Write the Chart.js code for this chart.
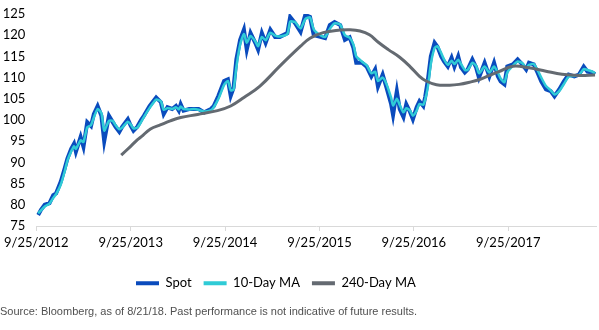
<!DOCTYPE html>
<html>
<head>
<meta charset="utf-8">
<script src="https://cdn.jsdelivr.net/npm/chart.js@4/dist/chart.umd.min.js"></script>
<style>
  html, body { margin: 0; padding: 0; background: #fff; }
  #wrap { width: 599px; height: 330px; position: relative; }
</style>
</head>
<body>
<div id="wrap"><canvas id="grafico"></canvas></div>
<script>
// years since 9/25/2012
const spotDates = [0.02, 0.05, 0.09, 0.14, 0.18, 0.21, 0.26, 0.30, 0.33, 0.37, 0.40, 0.42, 0.47, 0.50, 0.54, 0.58, 0.61, 0.65, 0.69, 0.72,
    0.77, 0.81, 0.84, 0.88, 0.91, 0.97, 1.00, 1.03, 1.07, 1.11, 1.14, 1.20, 1.27, 1.32, 1.35, 1.39, 1.44, 1.48, 1.51, 1.53,
    1.56, 1.62, 1.67, 1.72, 1.78, 1.85, 1.88, 1.93, 1.99, 2.03, 2.06, 2.09, 2.12, 2.16, 2.20, 2.23, 2.27, 2.32, 2.35, 2.39,
    2.43, 2.48, 2.53, 2.58, 2.66, 2.69, 2.74, 2.80, 2.85, 2.90, 2.94, 3.01, 3.06, 3.11, 3.16, 3.22, 3.27, 3.32, 3.36, 3.39,
    3.45, 3.50, 3.55, 3.59, 3.62, 3.67, 3.71, 3.76, 3.78, 3.82, 3.85, 3.89, 3.92, 3.96, 3.99, 4.03, 4.06, 4.10, 4.12, 4.15,
    4.18, 4.22, 4.25, 4.29, 4.32, 4.36, 4.40, 4.43, 4.47, 4.50, 4.54, 4.57, 4.62, 4.66, 4.69, 4.75, 4.80, 4.85, 4.89, 4.92,
    4.96, 4.99, 5.05, 5.10, 5.15, 5.19, 5.22, 5.27, 5.31, 5.35, 5.40, 5.45, 5.49, 5.54, 5.59, 5.64, 5.70, 5.75, 5.80, 5.84,
    5.89, 5.92];
const spotValues = [77.6, 78.8, 80.0, 80.4, 82.3, 82.7, 85.5, 88.5, 90.9, 93.2, 94.4, 92.5, 96.0, 93.7, 99.5, 98.6, 101.4, 103.3, 101.0, 95.0,
    101.0, 99.5, 98.4, 97.2, 98.4, 100.2, 98.7, 97.5, 98.4, 100.0, 101.0, 103.3, 105.3, 104.2, 101.4, 103.0, 102.6, 103.3, 102.2, 103.7,
    102.2, 102.6, 102.6, 102.6, 101.8, 102.6, 103.3, 105.7, 109.2, 109.6, 105.7, 107.6, 114.3, 118.9, 121.3, 116.6, 120.5, 118.2, 116.6, 120.5,
    118.2, 121.3, 119.6, 119.6, 120.5, 124.3, 122.9, 120.8, 124.8, 124.3, 120.0, 119.6, 119.3, 122.4, 123.1, 122.4, 118.9, 119.5, 117.0, 113.5,
    113.5, 112.6, 110.3, 111.9, 107.9, 110.7, 107.7, 103.7, 101.2, 106.8, 102.6, 100.7, 103.7, 101.9, 100.2, 103.0, 104.4, 103.3, 105.4, 109.6,
    115.0, 118.2, 117.3, 115.0, 113.8, 112.6, 114.7, 112.6, 115.0, 112.4, 111.2, 111.9, 114.3, 112.4, 110.0, 113.5, 110.3, 113.5, 110.3, 109.1,
    108.4, 112.6, 113.1, 114.3, 113.1, 111.9, 113.5, 113.1, 111.2, 109.1, 107.2, 106.8, 105.6, 107.2, 109.1, 110.7, 110.3, 110.7, 112.6, 111.4,
    111.2, 110.8];
const ma10Values = [78.0, 78.7, 79.6, 80.3, 81.6, 82.5, 84.8, 87.8, 90.4, 92.6, 93.8, 93.2, 95.2, 94.8, 98.3, 98.8, 100.6, 102.6, 101.6, 97.5,
    99.8, 99.8, 98.8, 97.8, 98.2, 99.6, 99.0, 98.0, 98.2, 99.5, 100.7, 102.8, 104.8, 104.4, 102.4, 102.8, 102.6, 103.0, 102.5, 103.2,
    102.6, 102.5, 102.6, 102.4, 102.0, 102.3, 103.0, 105.0, 108.3, 109.2, 107.0, 107.2, 112.5, 117.8, 120.3, 118.2, 119.8, 118.6, 117.4, 119.6,
    118.8, 120.6, 119.9, 119.7, 120.3, 123.2, 123.1, 121.6, 123.8, 124.2, 121.4, 120.0, 119.6, 121.5, 122.8, 122.5, 120.0, 119.4, 117.8, 115.0,
    113.8, 112.9, 111.0, 111.4, 109.2, 110.0, 108.5, 105.2, 103.4, 105.0, 103.6, 101.8, 102.8, 102.2, 101.0, 102.2, 103.8, 103.6, 104.8, 108.0,
    113.2, 117.0, 117.4, 115.8, 114.3, 113.0, 114.0, 113.2, 114.2, 113.2, 111.8, 111.8, 113.5, 112.8, 111.0, 112.6, 111.2, 112.6, 111.2, 109.8,
    108.9, 111.2, 112.8, 113.8, 113.4, 112.3, 113.0, 113.2, 111.8, 110.0, 108.0, 107.0, 106.0, 106.8, 108.5, 110.2, 110.4, 110.6, 112.0, 111.8,
    111.4, 111.0];
const ma240Dates = [0.90, 1.00, 1.07, 1.11, 1.21, 1.32, 1.42, 1.53, 1.71, 1.92, 2.06, 2.20, 2.37, 2.58, 2.80, 2.90, 3.04, 3.22, 3.32, 3.43,
    3.53, 3.62, 3.73, 3.85, 3.96, 4.06, 4.13, 4.24, 4.38, 4.48, 4.59, 4.69, 4.80, 4.90, 5.05, 5.22, 5.40, 5.57, 5.75, 5.92];
const ma240Values = [91.7, 93.8, 95.3, 96.0, 97.9, 98.9, 99.8, 100.6, 101.3, 102.2, 103.3, 105.3, 108.0, 112.7, 117.4, 119.3, 120.6, 121.2, 121.3, 121.0,
    120.1, 118.4, 116.6, 114.8, 112.6, 110.3, 109.2, 108.3, 108.2, 108.4, 108.9, 109.5, 110.5, 111.4, 112.7, 112.3, 111.5, 110.8, 110.5, 110.6];
const tickLabels = ['9/25/2012', '9/25/2013', '9/25/2014', '9/25/2015', '9/25/2016', '9/25/2017'];

const spotPts = spotDates.map((d, i) => ({ x: d, y: spotValues[i] }));
const ma10Pts = spotDates.map((d, i) => ({ x: d, y: ma10Values[i] }));
const ma240Pts = ma240Dates.map((d, i) => ({ x: d, y: ma240Values[i] }));

Chart.defaults.font.family = 'Lato, "Open Sans", sans-serif';
Chart.defaults.color = '#000';

// legenda começa mais à esquerda, como no original
const moverLegenda = {
    id: 'moverLegenda',
    afterLayout(chart) {
        if (chart.legend) chart.legend.left = 124;
    },
};

const ctx = document.getElementById('grafico').getContext('2d');
new Chart(ctx, {
    type: 'line',
    data: {
        datasets: [
            {
                label: 'Spot',
                data: spotPts,
                borderColor: '#0a4bbd',
                backgroundColor: '#0a4bbd',
                borderWidth: 4,
                pointRadius: 0,
                tension: 0,
                order: 2,
            },
            {
                label: '10-Day MA',
                data: ma10Pts,
                borderColor: '#2fcbd6',
                backgroundColor: '#2fcbd6',
                borderWidth: 2.5,
                pointRadius: 0,
                tension: 0.2,
                order: 1,
            },
            {
                label: '240-Day MA',
                data: ma240Pts,
                borderColor: '#646a71',
                backgroundColor: '#646a71',
                borderWidth: 3,
                pointRadius: 0,
                tension: 0.4,
                order: 0,
            },
        ],
    },
    plugins: [moverLegenda],
    options: {
        responsive: true,
        maintainAspectRatio: false,
        animation: false,
        layout: { padding: { left: 0, right: 3, top: 14, bottom: 0 } },
        plugins: {
            legend: {
                position: 'bottom',
                align: 'start',
                title: { display: true, text: '', padding: 0, font: { size: 8.5 } },
                labels: {
                    boxWidth: 23,
                    boxHeight: 4,
                    padding: 12,
                    font: { size: 13 },
                    sort: (a, b) => a.datasetIndex - b.datasetIndex,
                    generateLabels: (chart) =>
                        Chart.defaults.plugins.legend.labels.generateLabels(chart)
                            .map(item => ({ ...item, lineWidth: 0, fillStyle: item.strokeStyle })),
                },
            },
            subtitle: {
                display: true,
                position: 'bottom',
                align: 'start',
                text: 'Source: Bloomberg, as of 8/21/18. Past performance is not indicative of future results.',
                color: '#505050',
                font: { family: '"Liberation Sans", Arial, sans-serif', size: 11 },
                padding: { top: 6, bottom: 11 },
            },
            tooltip: { enabled: false },
        },
        scales: {
            x: {
                type: 'linear',
                min: 0,
                max: 5.93,
                afterBuildTicks: (scale) => {
                    scale.ticks = tickLabels.map((t, i) => ({ value: i }));
                },
                ticks: {
                    autoSkip: false,
                    maxRotation: 0,
                    padding: 4,
                    font: { size: 13 },
                    callback: (v, i) => tickLabels[i],
                },
                grid: {
                    display: true,
                    drawOnChartArea: false,
                    drawTicks: true,
                    tickLength: 5,
                    color: '#d9d9d9',
                },
                border: { color: '#d9d9d9', width: 1 },
            },
            y: {
                min: 75,
                max: 125,
                ticks: { stepSize: 5, padding: 11, font: { size: 13 } },
                grid: { display: false, drawTicks: false },
                border: { display: false },
                afterFit: (scale) => {
                    scale.width = 35;
                    scale.paddingTop = 0;
                    scale.paddingBottom = 0;
                },
            },
        },
    },
});
</script>
</body>
</html>
